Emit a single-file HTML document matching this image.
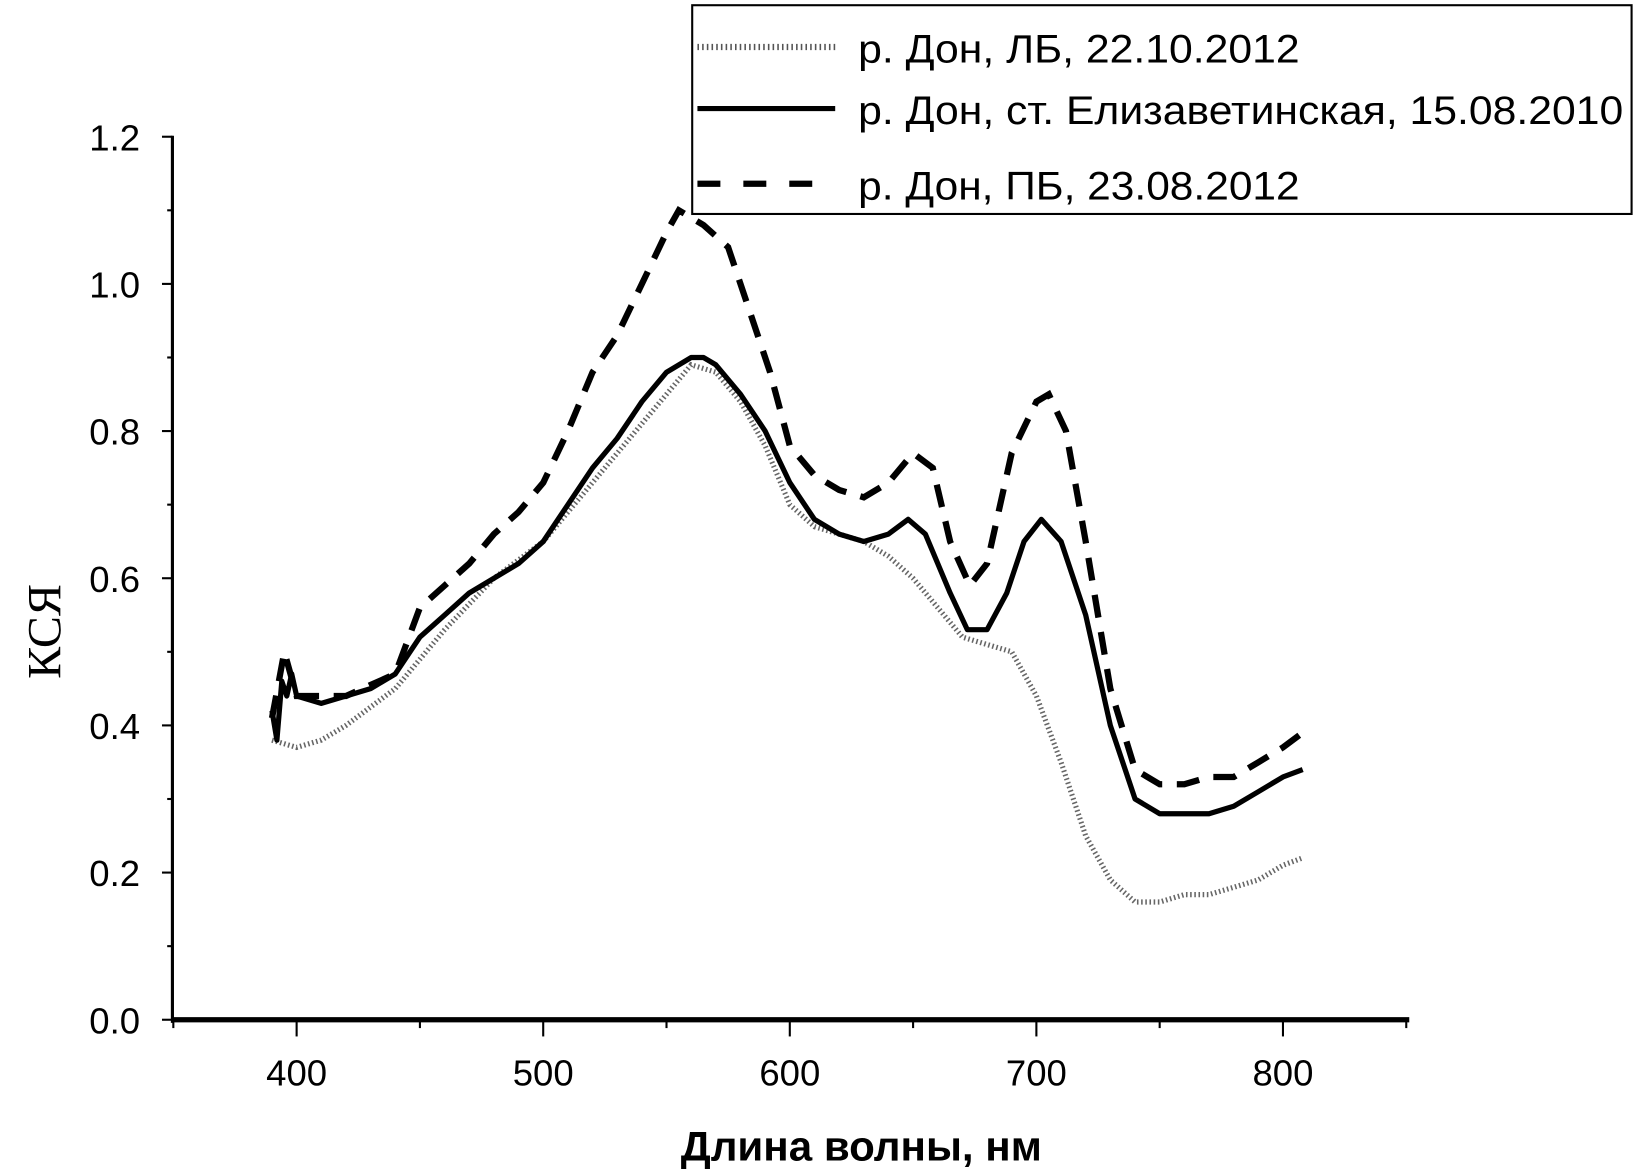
<!DOCTYPE html>
<html><head><meta charset="utf-8"><style>
html,body{margin:0;padding:0;background:#fff;}
svg{display:block;}
text{font-family:"Liberation Sans",sans-serif;fill:#000;}
</style></head><body>
<svg id="s" width="1637" height="1169" viewBox="0 0 1568 1120" xmlns="http://www.w3.org/2000/svg">
<rect width="1568" height="1120" fill="#fff"/>
<g id="axes" stroke="#000" stroke-width="3" fill="none">
<line x1="165" y1="977" x2="1350" y2="977" stroke-width="5"/>
<line x1="165" y1="130" x2="165" y2="980"/>
</g>
<g id="ticks" stroke="#000" stroke-width="2"></g>
<g id="labels" font-size="35"></g>
<text x="652" y="1112" font-size="40" font-weight="bold" textLength="346" lengthAdjust="spacingAndGlyphs">Длина волны, нм</text>
<text x="0" y="0" font-size="46" text-anchor="middle" transform="translate(58,605) rotate(-90)" style="font-family:'Liberation Serif',serif">КСЯ</text>
<g id="series" fill="none" stroke="#000"></g>
<rect x="663" y="5" width="900" height="200" fill="#fff" stroke="#000" stroke-width="2"/>
<line x1="668" y1="45" x2="800" y2="45" stroke="#555" stroke-width="6" stroke-dasharray="1.5,3"/>
<line x1="668" y1="104" x2="800" y2="104" stroke="#000" stroke-width="5"/>
<line x1="668" y1="176" x2="800" y2="176" stroke="#000" stroke-width="6" stroke-dasharray="22,22"/>
<g font-size="38">
<text x="822" y="60" textLength="423" lengthAdjust="spacingAndGlyphs">р. Дон, ЛБ, 22.10.2012</text>
<text x="822" y="119" textLength="733" lengthAdjust="spacingAndGlyphs">р. Дон, ст. Елизаветинская, 15.08.2010</text>
<text x="822" y="191" textLength="423" lengthAdjust="spacingAndGlyphs">р. Дон, ПБ, 23.08.2012</text>
</g>
</svg>
<script>
var NS="http://www.w3.org/2000/svg";
function X(w){return 284+(w-400)*2.3625;}
function Y(v){return 977-v*705;}
function el(t,a,p){var e=document.createElementNS(NS,t);for(var k in a)e.setAttribute(k,a[k]);p.appendChild(e);return e;}
var tk=document.getElementById('ticks'),lb=document.getElementById('labels');
for(var i=0;i<=12;i++){var v=i/10,y=Y(v);el('line',{x1:165-(i%2?5:10),y1:y,x2:165,y2:y},tk);
 if(i%2==0){var t=el('text',{x:134,y:y+13,'text-anchor':'end'},lb);t.textContent=v.toFixed(1);}}
for(var w=350;w<=850;w+=50){var x=X(w);el('line',{x1:x,y1:977,x2:x,y2:977+(w%100?8:16)},tk);
 if(w%100==0&&w>=400&&w<=800){var t=el('text',{x:x,y:1040,'text-anchor':'middle'},lb);t.textContent=w;}}
var solid=[[390,.42],[392,.38],[394,.46],[396,.44],[398,.47],[400,.44],[410,.43],[420,.44],[430,.45],[440,.47],[450,.52],[460,.55],[470,.58],[480,.60],[490,.62],[500,.65],[510,.70],[520,.75],[530,.79],[540,.84],[550,.88],[560,.90],[565,.90],[570,.89],[580,.85],[590,.80],[600,.73],[610,.68],[620,.66],[630,.65],[640,.66],[648,.68],[655,.66],[665,.58],[672,.53],[680,.53],[688,.58],[695,.65],[702,.68],[710,.65],[720,.55],[730,.40],[740,.30],[750,.28],[760,.28],[770,.28],[780,.29],[790,.31],[800,.33],[808,.34]];
var dash=[[390,.41],[395,.5],[400,.44],[420,.44],[440,.47],[450,.56],[460,.59],[470,.62],[480,.66],[490,.69],[500,.73],[510,.80],[520,.88],[530,.93],[540,1.00],[550,1.07],[555,1.10],[565,1.08],[575,1.05],[585,.95],[592,.88],[600,.78],[610,.74],[620,.72],[630,.71],[640,.73],[650,.77],[658,.75],[665,.65],[673,.59],[680,.62],[690,.77],[700,.84],[705,.85],[712,.80],[720,.65],[730,.45],[740,.34],[750,.32],[760,.32],[770,.33],[780,.33],[790,.35],[800,.37],[808,.39]];
var dot=[[390,.38],[400,.37],[410,.38],[420,.40],[440,.45],[460,.53],[480,.60],[500,.65],[520,.73],[540,.81],[560,.89],[570,.88],[580,.84],[590,.78],[600,.70],[610,.67],[620,.66],[630,.65],[640,.63],[650,.60],[660,.56],[670,.52],[680,.51],[690,.50],[700,.44],[710,.35],[720,.25],[730,.19],[740,.16],[750,.16],[760,.17],[770,.17],[780,.18],[790,.19],[800,.21],[808,.22]];
function P(d){return d.map(function(p,i){return (i?'L':'M')+X(p[0]).toFixed(1)+','+Y(p[1]).toFixed(1);}).join('');}
var g=document.getElementById('series');
el('path',{d:P(dot),'stroke-width':5,stroke:'#666','stroke-dasharray':'1.5,2.5'},g);
el('path',{d:P(dash),'stroke-width':6,'stroke-dasharray':'22,14'},g);
el('path',{d:P(solid),'stroke-width':5,'stroke-linejoin':'round'},g);
</script>
</body></html>
